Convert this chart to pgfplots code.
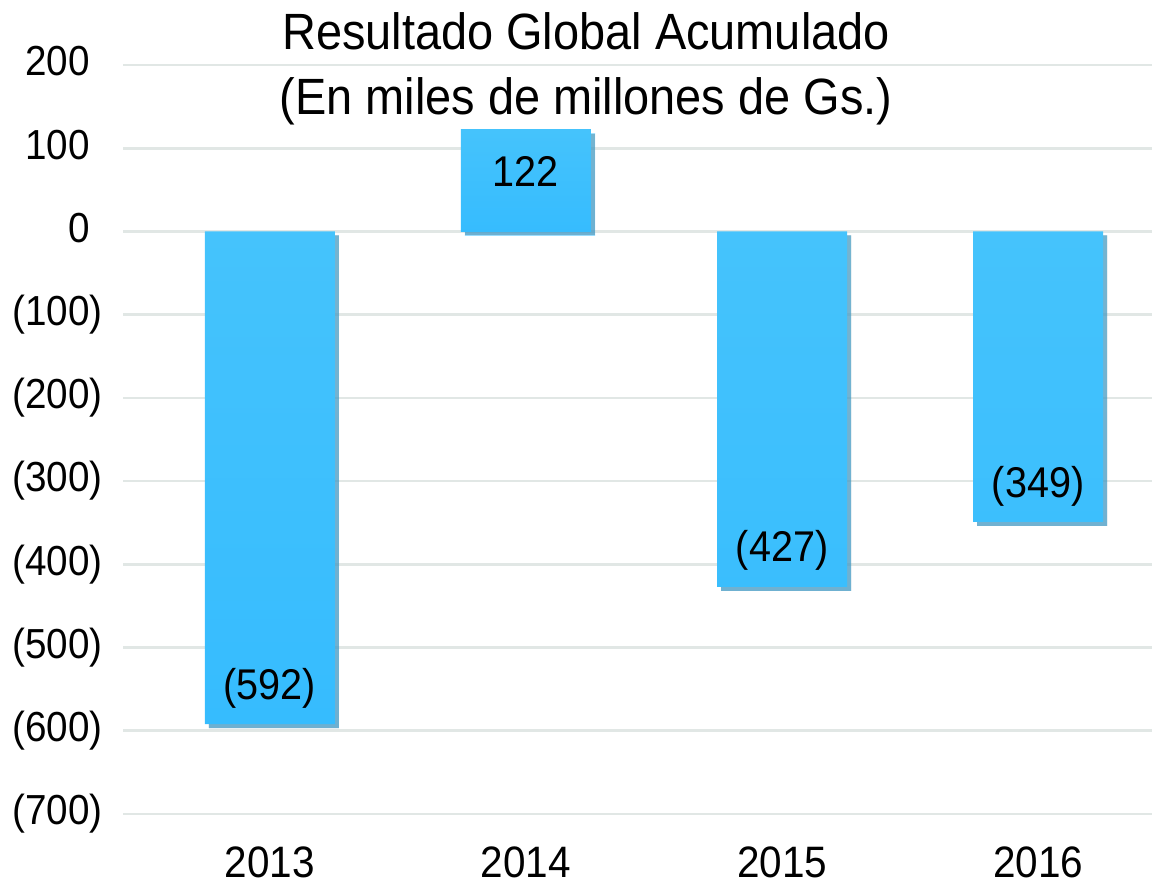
\documentclass[border=0pt]{standalone}
\usepackage{fontspec}
\setmainfont[FakeStretch=0.92]{Liberation Sans}
\usepackage{pgfplots}
\usepackage{pgfplotstable}
\pgfplotsset{compat=1.18}
\usetikzlibrary{shadows}

\definecolor{bartop}{HTML}{45C3FC}
\definecolor{barbot}{HTML}{36BCFE}
\definecolor{gridgray}{HTML}{E1E7E5}

% negative results (shown in parentheses)
\pgfplotstableread{
x y lbl
0 -592 (592)
2 -427 (427)
3 -349 (349)
}\negdata
% positive result
\pgfplotstableread{
x y lbl
1 122 122
}\posdata

\begin{document}
\begin{tikzpicture}[x=1pt,y=1pt]
\path[use as bounding box] (0,0) rectangle (576,444.5);
\begin{axis}[
    at={(61.5pt,37.5pt)}, anchor=south west,
    scale only axis,
    width=514.5pt, height=374.5pt,
    xmin=-0.574, xmax=3.445,
    ymin=-700, ymax=200,
    ybar, bar width=65pt, bar shift=0pt,
    axis line style={draw=none},
    tick style={draw=none},
    ymajorgrids,
    grid style={gridgray, line width=1.3pt},
    ytick={-700,-600,...,200},
    yticklabels={(700),(600),(500),(400),(300),(200),(100),0\phantom{)},100\phantom{)},200\phantom{)}},
    yticklabel style={font=\fontsize{21}{24}\selectfont, anchor=east, inner sep=0pt, xshift=-10pt},
    xtick={0,1,2,3},
    xticklabels={2013,2014,2015,2016},
    xticklabel style={font=\fontsize{22}{26}\selectfont, anchor=north, inner sep=0pt, yshift=-12pt},
    point meta=explicit symbolic,
    nodes near coords,
    every node near coord/.append style={font=\fontsize{21.5}{24}\selectfont, text=black, anchor=center},
]
\addplot[draw=none, top color=bartop, bottom color=barbot,
    drop shadow={shadow xshift=2pt, shadow yshift=-2pt, opacity=0.5, fill=black!70},
    every node near coord/.append style={yshift=18pt}]
    table[x=x, y=y, meta=lbl] {\negdata};
\addplot[draw=none, top color=bartop, bottom color=barbot,
    drop shadow={shadow xshift=2pt, shadow yshift=-2pt, opacity=0.5, fill=black!70},
    every node near coord/.append style={yshift=-21pt}]
    table[x=x, y=y, meta=lbl] {\posdata};
\end{axis}
\node[align=center, font=\fontsize{25.5}{32.5}\selectfont] at (293,410)
    {Resultado Global Acumulado\\(En miles de millones de Gs.)};
\end{tikzpicture}
\end{document}
